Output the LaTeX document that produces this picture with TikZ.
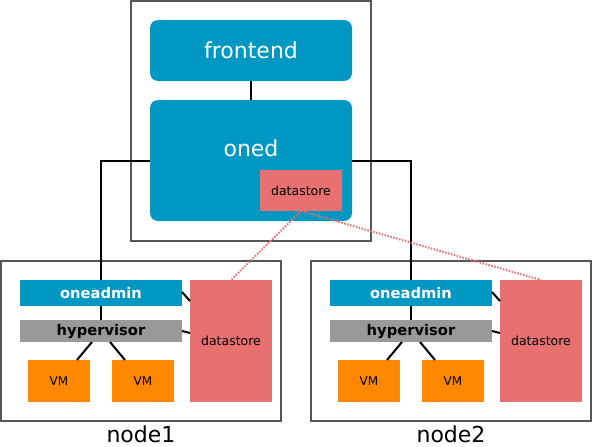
\documentclass[tikz,border=0pt]{standalone}
\usepackage{fontspec}
\setmainfont{DejaVu Sans}
\definecolor{oblue}{HTML}{0098C3}
\definecolor{ored}{HTML}{E87070}
\definecolor{ogray}{HTML}{999999}
\definecolor{oorange}{HTML}{FF8800}
\definecolor{frame}{HTML}{555555}
\tikzset{
  blk/.style={inner sep=0pt, outer sep=0pt, anchor=north west, draw=none},
  hostbox/.style={blk, draw=frame, line width=2pt, fill=white},
  bluebig/.style={blk, fill=oblue, rounded corners=8pt, text=white, font=\fontsize{22}{26}\selectfont},
  dsbox/.style={blk, fill=ored, text=black, font=\fontsize{12.5}{15}\selectfont},
  oabox/.style={blk, fill=oblue, text=white, font=\bfseries\fontsize{14.7}{17}\selectfont, minimum width=162pt, minimum height=26pt},
  hvbox/.style={blk, fill=ogray, text=black, font=\bfseries\fontsize{14.7}{17}\selectfont, minimum width=162pt, minimum height=22pt},
  vmbox/.style={blk, fill=oorange, text=black, font=\fontsize{12}{14}\selectfont, minimum width=62pt, minimum height=42pt},
  conn/.style={black, line width=2pt},
  dotconn/.style={ored, line width=2pt, dash pattern=on 1.5pt off 1.5pt},
  lbl/.style={inner sep=0pt, font=\fontsize{22}{26}\selectfont}
}
\begin{document}
\begin{tikzpicture}[x=1pt,y=-1pt]
\useasboundingbox (0,0) rectangle (592,447);
% host frames
\node[hostbox, minimum width=240pt, minimum height=240pt] (top) at (131,1) {};
\node[hostbox, minimum width=280pt, minimum height=160pt] (n1) at (1,261) {};
\node[hostbox, minimum width=280pt, minimum height=160pt] (n2) at (311,261) {};
% frontend
\node[bluebig, minimum width=202pt, minimum height=61pt] (fe) at (150,20) {frontend};
\node[bluebig, minimum width=202pt, minimum height=121pt] (oned) at (150,100) {};
\node[inner sep=0pt, text=white, font=\fontsize{22}{26}\selectfont] (onedt) at (251,148) {oned};
\node[dsbox, minimum width=82pt, minimum height=41pt] (sds) at (260,170) {datastore};
% node1
\node[oabox] (oa1) at (20,280) {oneadmin};
\node[hvbox] (hv1) at (20,320) {hypervisor};
\node[vmbox] (vma1) at (28,360) {VM};
\node[vmbox] (vmb1) at (112,360) {VM};
\node[dsbox, minimum width=82pt, minimum height=122pt] (ds1) at (190,280) {datastore};
% node2
\node[oabox] (oa2) at (330,280) {oneadmin};
\node[hvbox] (hv2) at (330,320) {hypervisor};
\node[vmbox] (vma2) at (338,360) {VM};
\node[vmbox] (vmb2) at (422,360) {VM};
\node[dsbox, minimum width=82pt, minimum height=122pt] (ds2) at (500,280) {datastore};
% labels
\node[lbl] (l1) at (141,434) {node1};
\node[lbl] (l2) at (451,434) {node2};
% connectors
\draw[conn] (fe.south) -- (oned.north);
\draw[conn] (oned.west) -| (oa1.north);
\draw[conn] (oned.east) -| (oa2.north);
\foreach \i in {1,2} {
  \draw[conn] (oa\i.south) -- (hv\i.north);
  \draw[conn] ([xshift=-9pt]hv\i.south) -- ([xshift=-13pt]vma\i.north east);
  \draw[conn] ([xshift=9pt]hv\i.south) -- ([xshift=13pt]vmb\i.north west);
  \draw[conn] ([yshift=1pt]oa\i.east) -- ([yshift=-21pt]ds\i.north west);
  \draw[conn] (hv\i.east) -- ([yshift=-53pt]ds\i.north west);
}
\draw[dotconn] (sds.south) -- (ds1.north);
\draw[dotconn] (sds.south) -- (ds2.north);
\end{tikzpicture}
\end{document}
